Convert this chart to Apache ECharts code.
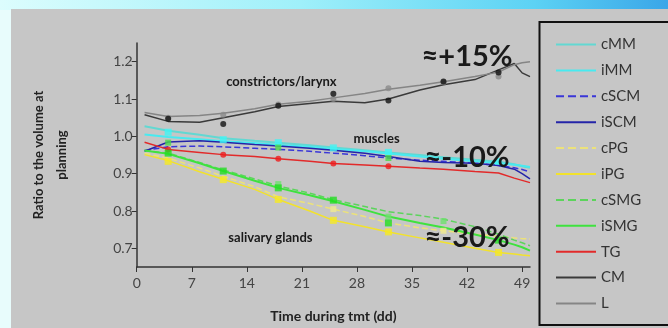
<!DOCTYPE html>
<html>
<head>
<meta charset="utf-8">
<script src="https://cdn.jsdelivr.net/npm/echarts@6/dist/echarts.min.js"></script>
<style>
  html, body { margin: 0; padding: 0; background: #e8fcfc; }
  #chart { width: 668px; height: 328px; }
</style>
</head>
<body>
<div id="chart"></div>
<script>
// Time axis (days during treatment)
const xTicks = [0, 7, 14, 21, 28, 35, 42, 49];
const yTicks = [0.7, 0.8, 0.9, 1.0, 1.1, 1.2];

// Days at which the relative volume curves are sampled
const days = [1, 4, 8, 11, 15, 18, 22, 25, 29, 32, 36, 39, 43, 46, 48, 49, 50];

// Relative volume (ratio to volume at planning) per organ
const cMM  = [1.027, 1.015, 1.004, 0.995, 0.988, 0.983, 0.976, 0.970, 0.963, 0.957, 0.950, 0.944, 0.937, 0.932, 0.925, 0.920, 0.916];
const iMM  = [1.005, 0.998, 0.992, 0.987, 0.982, 0.977, 0.972, 0.966, 0.960, 0.954, 0.946, 0.940, 0.933, 0.928, 0.924, 0.921, 0.918];
const cSCM = [0.962, 0.972, 0.974, 0.972, 0.968, 0.965, 0.960, 0.955, 0.948, 0.942, 0.936, 0.933, 0.928, 0.922, 0.916, 0.911, 0.905];
const iSCM = [0.960, 0.985, 0.988, 0.984, 0.978, 0.974, 0.968, 0.963, 0.955, 0.946, 0.933, 0.930, 0.928, 0.922, 0.912, 0.900, 0.886];
const cPG  = [0.955, 0.942, 0.915, 0.893, 0.865, 0.838, 0.820, 0.805, 0.785, 0.768, 0.755, 0.747, 0.738, 0.732, 0.728, 0.726, 0.725];
const iPG  = [0.951, 0.935, 0.905, 0.885, 0.858, 0.831, 0.800, 0.775, 0.758, 0.744, 0.728, 0.716, 0.700, 0.689, 0.685, 0.682, 0.680];
const cSMG = [0.962, 0.955, 0.930, 0.910, 0.886, 0.867, 0.848, 0.830, 0.812, 0.798, 0.788, 0.778, 0.758, 0.738, 0.722, 0.715, 0.707];
const iSMG = [0.962, 0.953, 0.928, 0.907, 0.881, 0.862, 0.842, 0.826, 0.803, 0.785, 0.768, 0.756, 0.737, 0.722, 0.710, 0.703, 0.694];
const TG   = [0.984, 0.965, 0.957, 0.951, 0.946, 0.940, 0.933, 0.927, 0.923, 0.920, 0.915, 0.912, 0.906, 0.902, 0.888, 0.882, 0.876];
const CM   = [1.058, 1.040, 1.038, 1.050, 1.066, 1.080, 1.088, 1.094, 1.090, 1.100, 1.124, 1.138, 1.152, 1.178, 1.195, 1.170, 1.160];
const L    = [1.064, 1.053, 1.056, 1.062, 1.074, 1.086, 1.094, 1.103, 1.115, 1.126, 1.137, 1.146, 1.160, 1.172, 1.192, 1.197, 1.200];

// Weekly measured means [day, ratio]
const cmDots   = [[4, 1.047], [11, 1.033], [18, 1.082], [25, 1.114], [32, 1.096], [39, 1.147], [46, 1.171]];
const lDots    = [[4, 1.050], [11, 1.058], [18, 1.085], [25, 1.100], [32, 1.129], [39, 1.145], [46, 1.160]];
const mmDots   = [[4, 1.011], [11, 0.991], [18, 0.983], [25, 0.969], [32, 0.957], [46, 0.933]];
const scmDots  = [[4, 0.983], [18, 0.970], [32, 0.942]];
const tgDots   = [[4, 0.965], [11, 0.951], [18, 0.940], [25, 0.927], [32, 0.920]];
const smgDots  = [[4, 0.955], [11, 0.907], [18, 0.862], [25, 0.829], [32, 0.768], [46, 0.722]];
const csmgDots = [[18, 0.872], [32, 0.785], [39, 0.773]];
const pgDots   = [[4, 0.933], [11, 0.884], [18, 0.831], [25, 0.775], [32, 0.744], [46, 0.689]];
const cpgDots  = [[25, 0.805], [39, 0.747]];

const FONT = 'Lato, "Open Sans", sans-serif';

const lineDefs = [
  { name: 'cMM',  data: cMM,  color: '#62d8d2', type: 'solid',  width: 2 },
  { name: 'iMM',  data: iMM,  color: '#48eaf0', type: 'solid',  width: 2 },
  { name: 'cSCM', data: cSCM, color: '#3a36d8', type: 'dashed', width: 1.5 },
  { name: 'iSCM', data: iSCM, color: '#2424a8', type: 'solid',  width: 1.5 },
  { name: 'cPG',  data: cPG,  color: '#ece27a', type: 'dashed', width: 1.5 },
  { name: 'iPG',  data: iPG,  color: '#f2e22c', type: 'solid',  width: 1.5 },
  { name: 'cSMG', data: cSMG, color: '#5cd45c', type: 'dashed', width: 1.5 },
  { name: 'iSMG', data: iSMG, color: '#3ee23e', type: 'solid',  width: 2 },
  { name: 'TG',   data: TG,   color: '#e22a2a', type: 'solid',  width: 1.5 },
  { name: 'CM',   data: CM,   color: '#3a3a3a', type: 'solid',  width: 1.5 },
  { name: 'L',    data: L,    color: '#858585', type: 'solid',  width: 1.5 }
];

const dotDefs = [
  { data: lDots,    color: '#8a8a8a', symbol: 'circle', size: 6 },
  { data: cmDots,   color: '#111111', symbol: 'circle', size: 6 },
  { data: mmDots,   color: '#3ff5f5', symbol: 'rect',   size: 7 },
  { data: scmDots,  color: '#4ad84a', symbol: 'rect',   size: 6 },
  { data: tgDots,   color: '#ee1c1c', symbol: 'circle', size: 6 },
  { data: csmgDots, color: '#6ee06e', symbol: 'rect',   size: 6 },
  { data: smgDots,  color: '#22dd22', symbol: 'rect',   size: 7 },
  { data: cpgDots,  color: '#f0ea90', symbol: 'rect',   size: 6 },
  { data: pgDots,   color: '#f6ea20', symbol: 'rect',   size: 7 }
];

const series = lineDefs.map(d => ({
  name: d.name,
  type: 'line',
  data: days.map((t, i) => [t, d.data[i]]),
  symbol: 'none',
  color: d.color,
  lineStyle: { color: d.color, width: d.width, type: d.type },
  z: 3
})).concat(dotDefs.map(d => ({
  type: 'scatter',
  data: d.data,
  symbol: d.symbol,
  symbolSize: d.size,
  itemStyle: { color: d.color },
  z: 4
})));

const chart = echarts.init(document.getElementById('chart'), null, { renderer: 'canvas' });

chart.setOption({
  animation: false,
  backgroundColor: 'transparent',
  textStyle: { fontFamily: FONT },
  grid: { left: 136.7, right: 138, top: 43, bottom: 60 },
  xAxis: {
    type: 'value',
    min: 0, max: 50,
    name: 'Time during tmt (dd)',
    nameLocation: 'middle',
    nameGap: 42,
    nameTextStyle: { fontFamily: FONT, fontSize: 14, fontWeight: 'bold', color: '#222' },
    axisLine: { lineStyle: { color: '#333', width: 1.5 } },
    axisTick: { customValues: xTicks, length: 5, lineStyle: { color: '#333' } },
    axisLabel: { customValues: xTicks, fontFamily: FONT, fontSize: 14, color: '#444', margin: 9 },
    splitLine: { show: false }
  },
  yAxis: {
    type: 'value',
    min: 0.65, max: 1.25,
    name: 'Ratio to the volume at\nplanning',
    nameLocation: 'middle',
    nameGap: 63,
    nameRotate: 90,
    nameTextStyle: { fontFamily: FONT, fontSize: 13, fontWeight: 'bold', color: '#222', lineHeight: 23, align: 'center' },
    axisLine: { show: true, lineStyle: { color: '#333', width: 1.5 } },
    axisTick: { show: true, customValues: yTicks, length: 5, lineStyle: { color: '#333' } },
    axisLabel: {
      customValues: yTicks, fontFamily: FONT, fontSize: 14, color: '#444', margin: 4,
      formatter: v => v.toFixed(1)
    },
    splitLine: { show: false }
  },
  legend: {
    orient: 'vertical',
    left: 555,
    top: 37,
    padding: 0,
    itemWidth: 40,
    itemHeight: 14,
    itemGap: 10.9,
    data: lineDefs.map(d => d.name),
    itemStyle: { color: 'transparent', borderWidth: 0, opacity: 0 },
    textStyle: { fontFamily: FONT, fontSize: 15, lineHeight: 14, color: '#333' },
    selectedMode: false
  },
  series: series
});

// Background panels, legend frame and group annotations
function px(x, y) { return chart.convertToPixel({ gridIndex: 0 }, [x, y]); }

const notes = [
  { text: 'constrictors/larynx', at: [18.4, 1.147], size: 13 },
  { text: 'muscles',             at: [30.5, 0.994], size: 13 },
  { text: 'salivary glands',     at: [17.0, 0.727], size: 13 },
  { text: '≈+15%',               at: [42.0, 1.213], size: 29 },
  { text: '≈-10%',               at: [42.0, 0.943], size: 29 },
  { text: '≈-30%',               at: [42.0, 0.729], size: 29 }
];

chart.setOption({
  graphic: [
    {
      type: 'rect', z: -10, silent: true,
      shape: { x: 0, y: 0, width: 668, height: 10 },
      style: {
        fill: new echarts.graphic.LinearGradient(0, 0, 1, 0, [
          { offset: 0, color: '#dcfdfd' },
          { offset: 0.45, color: '#9ff0fa' },
          { offset: 0.8, color: '#5cd2f4' },
          { offset: 1, color: '#3aa6e8' }
        ])
      }
    },
    {
      type: 'rect', z: -9, silent: true,
      shape: { x: 11, y: 9, width: 660, height: 322 },
      style: { fill: '#c6c6c6' }
    },
    {
      type: 'rect', z: 10, silent: true,
      shape: { x: 539.5, y: 22, width: 140, height: 303 },
      style: { fill: 'none', stroke: '#111', lineWidth: 2 }
    }
  ].concat(notes.map(n => {
    const p = px(n.at[0], n.at[1]);
    return {
      type: 'text', z: 20, silent: true,
      x: p[0], y: p[1],
      style: {
        text: n.text,
        fontFamily: FONT,
        fontSize: n.size,
        fontWeight: 'bold',
        fill: '#1a1a1a',
        align: 'center',
        verticalAlign: 'middle'
      }
    };
  }))
});
</script>
</body>
</html>
